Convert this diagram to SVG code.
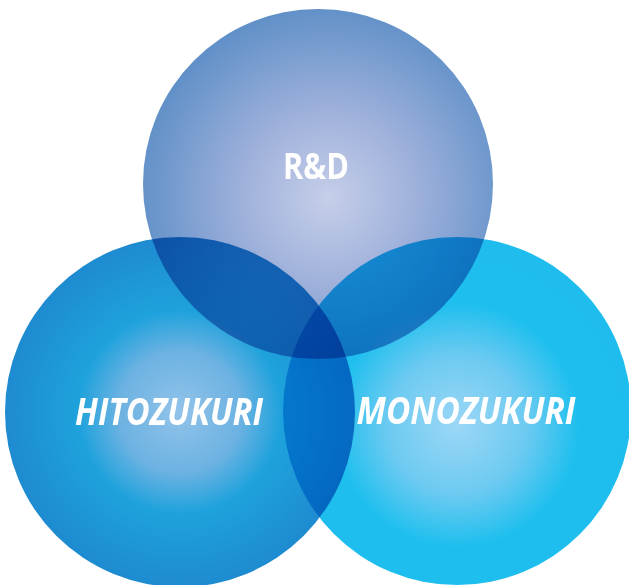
<svg xmlns="http://www.w3.org/2000/svg" width="629" height="585" viewBox="0 0 629 585">
<defs>
<radialGradient id="gTop" cx="0.53" cy="0.54" r="0.55">
<stop offset="0" stop-color="#c6cee9"/>
<stop offset="0.45" stop-color="#9fb1db"/>
<stop offset="1" stop-color="#6090c8"/>
</radialGradient>
<radialGradient id="gLeft" cx="0.5" cy="0.5" r="0.5">
<stop offset="0" stop-color="#92c3ea"/>
<stop offset="0.35" stop-color="#6cb2e2"/>
<stop offset="0.58" stop-color="#1ea2dc"/>
<stop offset="1" stop-color="#1e8bd0"/>
</radialGradient>
<radialGradient id="gRight" cx="0.5" cy="0.54" r="0.5">
<stop offset="0" stop-color="#9cd7f6"/>
<stop offset="0.4" stop-color="#6ccaf1"/>
<stop offset="0.7" stop-color="#1ebfee"/>
<stop offset="1" stop-color="#1ebdee"/>
</radialGradient>
</defs>
<style>
.c { mix-blend-mode: multiply; }
.lbl { fill: #ffffff; font-family: "Open Sans", "Noto Sans", "Liberation Sans", sans-serif; font-weight: 700; text-anchor: middle; }
.it { font-style: italic; }
</style>
<rect width="629" height="585" fill="#ffffff"/>
<g id="node-hitozukuri">
<circle class="c" cx="180" cy="412" r="175" fill="url(#gLeft)"/>
</g>
<g id="node-monozukuri">
<circle class="c" cx="457" cy="411" r="174" fill="url(#gRight)"/>
</g>
<g id="node-rd">
<circle class="c" cx="318" cy="184" r="175" fill="url(#gTop)"/>
</g>
<g id="labels">
<text class="lbl" x="316" y="179" font-size="35" textLength="66" lengthAdjust="spacingAndGlyphs">R&amp;D</text>
<text class="lbl it" x="169" y="425" font-size="37" textLength="188" lengthAdjust="spacingAndGlyphs">HITOZUKURI</text>
<text class="lbl it" x="466" y="424" font-size="37" textLength="219" lengthAdjust="spacingAndGlyphs">MONOZUKURI</text>
</g>
</svg>
